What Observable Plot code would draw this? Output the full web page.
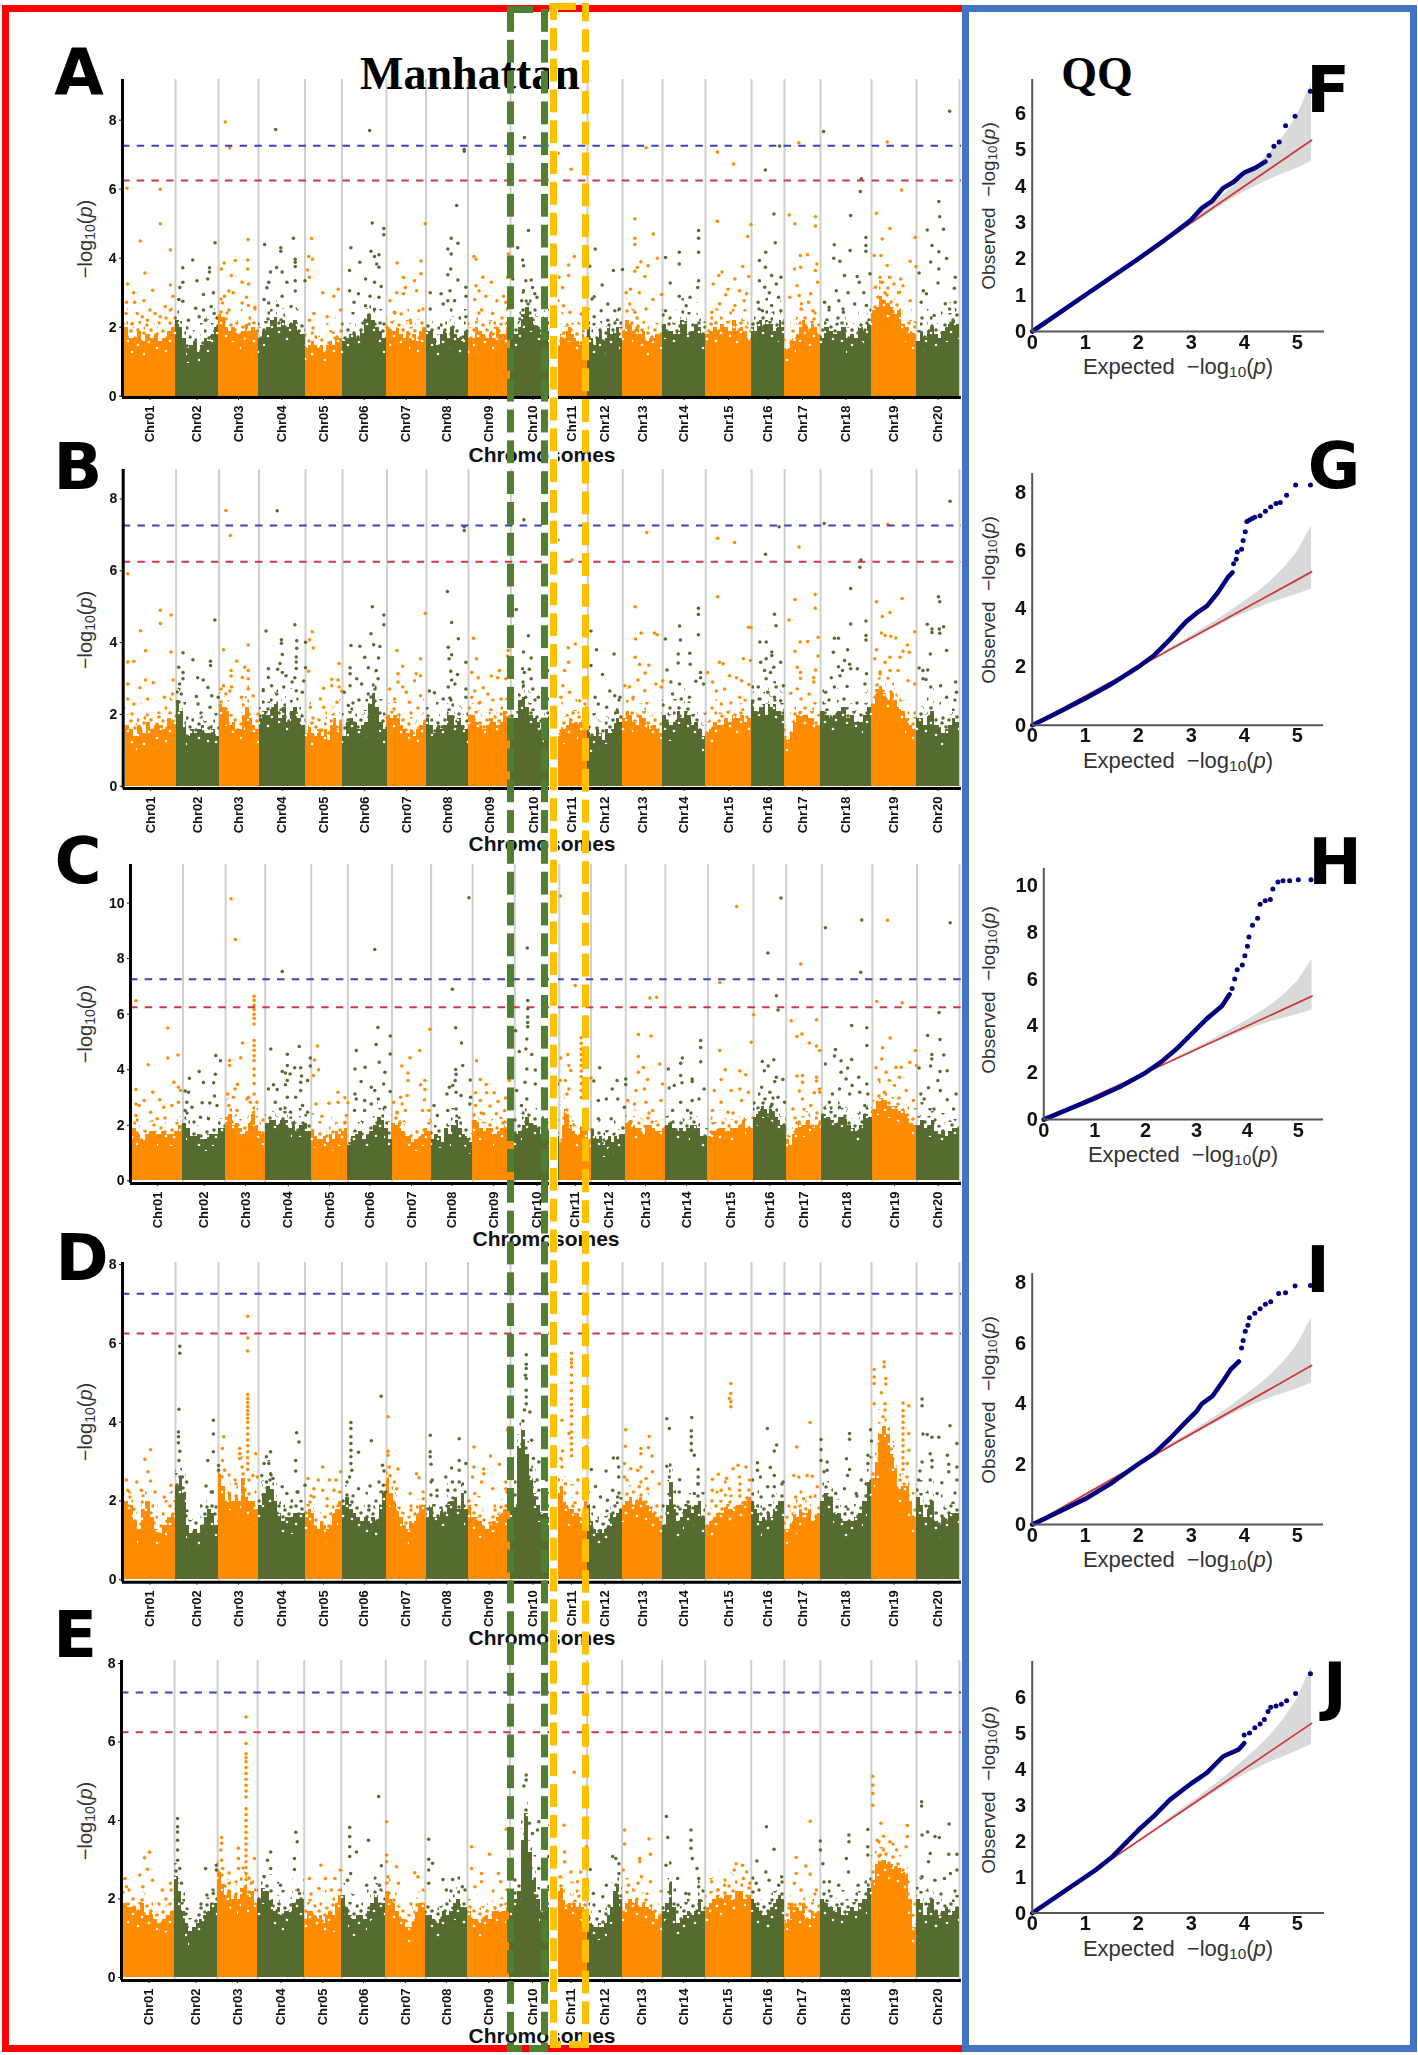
<!DOCTYPE html>
<html><head><meta charset="utf-8">
<script src="https://cdn.jsdelivr.net/npm/d3@7"></script>
<script src="https://cdn.jsdelivr.net/npm/@observablehq/plot@0.6"></script>
<style>
html,body{margin:0;padding:0;background:#fff}
#page{position:relative;width:1418px;height:2055px;overflow:hidden;font-family:"Liberation Sans",Arial,sans-serif;background:#fff}
.abs{position:absolute;white-space:nowrap;line-height:1}
.c{transform:translate(-50%,-50%)}
.v{transform:translate(-50%,-50%) rotate(-90deg)}
sub{font-size:70%;line-height:0;vertical-align:-0.22em}
.mh{filter:blur(.45px)}
.qq{filter:blur(.3px)}
svg g[aria-label$="tick label"] text, svg g[aria-label$="tick label"]{font-weight:bold}
.mh g[aria-label="y-axis tick label"]{font-size:14px}
.mh g[aria-label="x-axis tick label"]{font-size:13px}
.qq g[aria-label$="tick label"]{font-size:20px}
</style></head><body><div id="page"></div>
<script>
const chromNames=["Chr01","Chr02","Chr03","Chr04","Chr05","Chr06","Chr07","Chr08","Chr09","Chr10","Chr11","Chr12","Chr13","Chr14","Chr15","Chr16","Chr17","Chr18","Chr19","Chr20"];
const chromLengths=[51,43,40,46.5,37,44.5,39.5,42,42.5,45,32,35,40,43,46,33,36,51,45,43];
const blueThreshold=7.26, redThreshold=6.25;

// upper edge of the dense mass of markers, 12 readings along each chromosome
const tops_A=[[2.0,1.7,1.7,1.9,1.6,1.8,1.7,1.8,1.6,1.7,1.9,2.0],[2.2,2.0,1.7,1.4,1.5,1.6,1.3,1.5,1.7,1.6,1.8,2.0],[2.4,2.3,2.0,1.9,2.0,1.9,1.8,1.9,2.1,1.9,2.0,1.9],[1.7,1.9,2.0,2.2,2.3,2.0,2.2,2.0,2.1,2.2,1.9,1.8],[1.4,1.5,1.6,1.5,1.4,1.5,1.3,1.5,1.6,1.5,1.7,1.7],[1.6,1.7,1.8,1.8,1.7,1.9,2.2,2.4,2.2,2.0,1.9,1.7],[2.0,1.9,1.9,2.0,1.8,1.7,1.9,1.7,1.8,1.6,1.9,2.0],[1.9,1.9,1.7,1.5,1.8,1.9,1.7,2.0,1.8,1.7,1.6,1.9],[1.7,1.7,2.0,1.9,1.8,1.7,1.9,1.7,2.0,1.8,1.8,2.0],[1.7,1.8,2.0,2.4,2.6,2.3,2.1,2.0,1.8,2.2,1.9,1.3],[1.3,1.5,1.8,1.7,1.9,2.0,1.8,1.7,1.6,1.5,1.8,1.6],[2.0,1.7,1.5,1.7,1.9,1.6,1.7,2.0,1.8,1.9,2.0,1.7],[1.9,2.2,2.1,1.9,2.0,1.8,1.9,1.6,1.7,1.7,1.8,1.8],[2.1,1.9,1.9,1.8,1.9,2.2,2.1,1.8,1.9,2.1,2.0,1.8],[1.8,1.9,2.0,1.9,2.1,2.0,1.9,2.2,1.9,2.0,1.9,1.7],[2.0,1.9,2.1,2.2,2.0,2.2,2.1,2.1,1.9,2.0,2.2,2.0],[1.4,1.4,1.7,1.6,1.8,2.0,2.2,2.0,1.9,2.1,2.0,1.8],[1.7,2.0,1.9,1.8,1.9,2.0,1.7,1.8,1.7,2.0,1.9,2.1],[2.5,2.6,2.9,2.8,2.7,2.6,2.4,2.5,2.1,2.0,1.9,1.8],[1.6,1.9,1.7,1.9,2.0,1.8,1.7,1.9,2.0,2.1,2.2,2.1]];
const tops_B=[[1.7,1.6,1.4,1.7,1.5,1.8,1.6,1.7,1.7,1.6,1.9,1.8],[2.4,2.1,1.7,1.4,1.6,1.5,1.6,1.7,1.5,1.5,1.6,1.4],[2.3,2.2,2.1,1.7,1.8,1.6,1.6,2.0,2.2,1.9,1.7,1.6],[1.9,2.1,2.0,2.2,2.3,1.9,2.2,1.8,2.1,2.2,1.9,1.7],[1.5,1.7,1.5,1.4,1.6,1.4,1.6,1.3,1.7,1.9,1.6,1.8],[1.4,1.8,1.9,1.8,1.6,1.7,1.8,2.3,2.6,2.2,1.8,1.6],[2.0,1.9,2.0,2.0,1.7,1.6,1.5,1.6,1.4,1.6,1.7,1.8],[1.9,1.7,1.5,1.7,1.6,1.7,2.0,2.0,1.7,1.9,1.7,1.6],[2.0,2.0,1.8,1.7,1.6,1.7,1.9,1.8,1.7,1.8,2.1,2.0],[1.8,1.9,2.4,2.5,2.2,2.0,1.9,1.8,1.6,1.8,2.0,1.5],[1.2,1.5,1.7,1.6,1.7,1.9,1.8,1.8,1.7,1.8,1.9,1.8],[1.6,1.4,1.4,1.6,1.5,1.3,1.6,1.5,1.6,1.8,1.9,1.8],[1.9,2.1,2.0,1.8,1.7,2.0,1.9,1.7,1.6,1.7,1.6,1.5],[2.0,1.8,1.7,1.8,2.1,1.9,2.1,2.0,1.7,1.8,1.6,1.4],[1.5,1.6,1.8,1.7,1.7,1.9,1.8,2.0,1.9,2.0,1.8,1.9],[2.4,2.1,2.0,2.2,2.3,2.0,2.3,2.2,2.3,2.1,2.1,2.0],[1.4,1.2,1.5,1.8,2.0,2.1,2.0,2.0,1.9,1.9,1.7,1.7],[2.1,2.0,1.9,2.0,2.1,2.2,1.9,2.0,1.8,1.8,2.0,2.2],[2.3,2.7,2.8,2.6,2.4,2.6,2.4,2.2,2.1,1.9,1.7,1.6],[1.9,1.9,1.7,2.0,2.1,1.7,1.7,1.5,1.6,1.7,1.9,1.8]];
const tops_C=[[1.9,1.7,1.5,1.7,1.8,1.8,1.7,1.8,1.7,1.7,1.8,2.0],[2.1,1.9,1.6,1.6,1.7,1.5,1.5,1.7,1.7,1.7,1.9,1.9],[2.3,2.4,2.0,2.1,1.9,1.7,1.8,2.1,2.4,2.0,1.8,1.7],[2.1,2.2,2.2,2.0,2.2,2.2,1.9,2.1,1.8,2.0,2.1,1.8],[1.8,1.6,1.5,1.5,1.6,1.4,1.7,1.5,1.8,1.7,1.8,1.9],[1.3,1.6,1.7,1.8,1.5,1.7,1.8,2.0,2.3,2.2,1.9,1.5],[2.1,2.0,2.1,1.8,1.6,1.6,1.4,1.5,1.6,1.7,1.9,1.8],[1.5,1.7,1.6,1.4,1.9,1.7,2.0,2.2,1.9,1.7,1.6,1.4],[2.2,2.2,1.9,1.8,1.9,1.9,1.7,1.8,1.9,2.0,1.9,1.9],[1.7,1.8,2.0,2.3,2.1,2.0,1.9,1.7,1.6,1.8,2.0,1.6],[1.4,2.0,2.6,2.4,2.0,1.8,1.7,1.6,1.9,2.0,1.9,1.5],[1.8,1.6,1.5,1.6,1.3,1.5,1.6,1.4,1.6,1.5,1.7,1.7],[2.1,2.2,2.0,1.9,1.9,1.7,2.0,2.0,1.9,1.8,1.8,1.9],[2.0,2.1,1.9,1.8,1.9,1.8,1.9,2.0,2.0,1.9,1.6,1.6],[1.6,1.8,1.8,1.9,1.9,1.8,1.9,1.9,2.0,2.2,1.9,1.9],[2.3,2.4,2.6,2.7,2.6,2.3,2.6,2.5,2.3,2.2,2.0,2.0],[1.5,1.3,1.7,1.9,2.1,2.0,2.0,2.2,2.0,1.9,2.0,2.1],[2.4,2.3,2.2,2.1,2.3,2.3,2.0,1.9,1.8,2.0,2.4,2.3],[2.6,2.8,3.0,2.9,2.7,2.7,2.6,2.5,2.5,2.4,2.1,2.0],[2.0,2.2,1.9,2.0,2.2,1.8,1.7,1.8,1.6,1.8,1.9,1.9]];
const tops_D=[[2.0,1.9,1.5,1.3,1.8,2.0,1.6,1.3,1.2,1.4,1.6,1.7],[2.4,2.6,2.2,1.4,1.2,1.3,1.2,1.4,1.6,1.8,1.7,1.4],[2.7,2.4,2.0,2.2,2.0,2.1,2.0,2.6,2.1,2.0,2.0,1.8],[1.9,2.2,2.4,2.3,2.0,1.7,1.5,1.6,1.6,1.7,1.7,1.7],[1.6,1.8,1.7,1.4,1.3,1.5,1.4,1.3,1.4,1.7,1.8,2.0],[1.9,2.1,1.8,1.7,1.6,1.5,1.6,1.5,1.6,1.5,1.9,2.2],[2.6,2.2,2.0,1.8,1.6,1.4,1.3,1.5,1.5,1.7,1.9,1.9],[1.6,1.9,1.6,1.6,1.8,1.7,1.9,2.0,2.1,1.8,2.2,1.8],[1.9,1.6,1.6,1.5,1.4,1.3,1.4,1.5,1.6,1.7,1.8,1.8],[1.8,1.9,3.4,3.8,3.2,2.6,2.2,1.9,1.7,1.7,1.6,1.3],[1.3,2.2,2.4,2.0,1.9,1.8,1.8,1.7,1.7,1.6,1.8,2.0],[1.9,1.5,1.3,1.2,1.3,1.2,1.3,1.4,1.7,1.6,1.7,1.8],[1.9,2.0,2.1,1.9,2.0,2.1,2.0,1.9,1.8,1.7,1.6,1.5],[1.4,1.9,2.5,1.9,1.5,1.6,1.8,1.9,1.7,1.9,2.0,1.6],[1.4,1.5,1.6,1.7,1.7,1.9,1.8,1.8,1.9,1.9,2.0,2.1],[2.0,1.8,1.7,1.5,1.6,1.5,1.7,1.6,1.8,1.9,2.0,2.0],[1.3,1.3,1.5,1.7,1.6,1.8,1.6,1.7,1.8,1.5,1.6,1.7],[2.0,2.2,2.1,1.7,1.7,1.5,1.5,1.5,1.6,1.7,2.0,2.5],[2.6,3.0,3.7,3.9,3.7,3.2,2.8,2.3,2.4,2.4,2.0,1.6],[2.1,1.9,1.6,1.9,2.0,1.5,1.4,1.6,1.5,1.7,1.7,1.7]];
const tops_E=[[1.9,1.8,1.8,1.7,1.9,1.6,1.7,1.5,1.4,1.5,1.6,1.7],[2.6,2.2,1.7,1.4,1.2,1.3,1.4,1.5,1.6,1.7,1.9,1.9],[2.7,2.4,2.1,2.2,2.0,2.1,2.0,2.3,2.4,2.1,2.2,1.9],[2.0,2.3,2.2,2.0,1.7,1.8,1.6,1.7,1.7,1.9,2.0,2.0],[1.5,1.7,1.7,1.6,1.5,1.6,1.4,1.6,1.7,1.6,1.9,2.1],[2.1,1.8,1.6,1.5,1.6,1.6,1.5,1.7,1.9,2.1,1.9,1.9],[2.2,2.0,1.9,1.7,1.5,1.5,1.3,1.3,1.5,1.7,1.9,1.9],[1.6,1.6,1.5,1.4,1.5,1.7,1.6,1.7,1.9,2.0,1.8,1.8],[1.7,1.5,1.5,1.4,1.5,1.6,1.5,1.7,1.7,1.7,1.7,1.9],[1.7,2.0,2.2,3.5,4.2,3.2,2.5,2.0,1.7,1.9,1.9,1.5],[1.5,2.2,2.3,2.0,1.8,1.9,1.8,1.9,1.8,1.9,1.8,1.6],[1.6,1.4,1.3,1.3,1.4,1.3,1.4,1.6,1.8,2.2,2.4,2.0],[1.7,1.9,2.0,1.9,2.0,1.8,1.9,1.8,1.8,1.7,1.5,1.6],[1.7,1.9,2.4,1.8,1.4,1.5,1.6,1.7,1.6,1.7,2.0,1.7],[1.8,1.9,2.0,2.1,2.0,2.1,2.1,2.0,2.2,2.2,2.0,2.1],[2.0,1.9,1.8,1.7,1.6,1.6,1.7,1.8,1.9,2.0,2.1,2.0],[1.4,1.5,1.9,1.8,1.8,1.7,1.9,1.5,1.5,1.7,1.6,1.7],[2.0,1.9,1.8,1.7,1.8,1.6,1.7,1.8,1.7,1.9,2.0,2.3],[2.5,2.9,3.0,3.0,2.9,2.9,2.8,2.8,2.7,2.6,2.0,1.3],[2.0,1.9,1.6,1.9,2.0,1.7,1.6,1.7,1.8,1.6,1.7,1.8]];

// scattered markers read per chromosome: percent along the chromosome, -log10(p), ...
const dots_A=[
[5,6.03,70,6,70,5,31,4.5,90,4.24,40,3.57,6,3.25,90,3.22,55,3.07,18,3,95,2.9,20,2.72,4,2.72,38,2.77,3,2.4,25,2.4,35,2.3,45,2.2,60,2.4,80,2.6,70,2.3,15,2.1,50,2.5,90,2.5],
[92,4.45,40,3.95,17,3.72,79,3.72,79,3.6,50,3.35,75,3.4,17,3.3,10,3.15,65,2.95,88,3,8,2.8,17,2.75,47,2.55,65,2.5,83,2.6,30,2.2,55,2.3,90,2.4,70,2.2],
[17,7.95,28,7.2,74,4.54,14,3.86,42,3.93,73,3.95,7,3.69,73,3.69,32,3.5,59,3.3,75,3.25,26,3.05,15,2.9,37,3,70,2.87,59,2.7,75,2.63,91,2.58,10,2.7,26,2.5],
[37,7.73,13,4.4,75,4.58,48,4.3,48,4.2,79,3.97,79,3.88,79,3.76,39,3.73,51,3.6,26,3.6,100,3.35,22,3.3,61,3.3,79,3.35,18,3.14,79,3.05,12,2.8,51,2.9,22,2.7,41,2.63,70,2.6],
[18,4.57,10,4.05,20,3.97,7,3.66,12,3.45,48,3,90,3.1,78,2.9,24,2.4,96,2.5,60,2.3,12,2.2],
[62,7.7,68,5.02,94,4.86,94,4.68,20,4.3,65,4.2,83,4.1,73,4.05,40,3.88,78,3.83,83,3.74,17,3.64,53,3.4,73,3.3,88,3.18,17,3.06,37,2.97,63,2.9,83,2.87,27,2.72,53,2.62,73,2.52],
[98,5,27,3.86,87,3.92,43,3.44,87,3.55,71,3.35,48,3.15,26,3,43,2.97,76,3.06,9,2.77,82,2.48,37,2.38,20,2.43,60,2.2],
[91,7.16,91,7.1,73,5.53,60,4.58,76,4.43,52,4.27,60,4.12,59,3.69,52,3.52,76,3.37,95,3.16,10,3,36,2.97,57,3.06,95,2.9,52,2.77,68,2.77,41,2.67,10,2.53,95,2.3],
[14,4.05,19,3.97,95,4.12,95,3.97,35,3.45,93,3.45,55,3.3,19,3.2,26,3.06,42,2.9,84,2.9,16,2.8,68,2.77,89,2.72,32,2.5,58,2.4],
[31,7.5,40,4.8,16,4.3,27,3.95,29,3.78,34,3.35,46,3.37,5,3.4,49,3.15,29,3.06,54,2.97,25,2.77,39,2.67,59,2.87],
[8,7.04,49,6.58,59,4.05,41,3.8,93,4.03,41,3.5,11,3.45,22,3.15,25,2.62,45,2.43,80,2.38,8,2.77],
[22,4.27,6,3.77,42,3.22,74,3.64,100,3.67,19,2.88,13,2.82,58,2.67,39,2.48,91,2.53,78,2.48,19,2.3,58,2.2],
[59,7.2,31,5.14,31,4.58,31,4.4,77,4.7,87,4,46,3.9,64,3.78,37,3.73,31,3.62,56,3.47,20,3.1,9,3,42,3,76,2.8,98,2.95,18,2.67,31,2.43,59,2.53],
[7,4.02,39,4.17,39,3.83,84,4.8,84,4.58,84,4.17,18,3.28,64,2.87,39,2.9,84,3.35,7,2.48,55,2.62,82,3.15],
[26,7.08,61,6.73,26,5.07,99,4.98,92,4.63,81,3.76,29,3.5,36,3.6,94,3.47,17,3.25,64,3.4,49,3.1,74,3.06,89,2.97,44,2.94,31,2.68,64,2.63,84,2.77,14,2.43],
[85,7.25,42,6.56,68,5.28,72,4.45,43,4.17,24,3.93,42,3.74,61,3.5,89,3.45,24,3.35,40,3.16,75,3.25,54,3,20,2.72,82,2.87,61,2.63,89,2.48,33,2.48],
[40,7.35,13,5.25,86,5.2,29,5,86,4.93,44,4.08,64,4.1,45,3.74,90,3.83,28,3.69,86,3.64,92,3.3,35,3.2,73,2.97,15,2.87,41,2.92,47,2.68,67,2.72,79,2.48],
[6,7.67,80,6.3,78,5.93,59,5.24,27,4.39,89,4.6,89,4.37,58,4.22,89,4.2,26,4,38,3.91,47,3.5,72,3.47,76,3.3,97,3.55,31,3.06,54,3,85,3,8,2.72,36,2.77,67,2.67,17,2.58,90,2.63,45,2.43],
[35,7.37,67,5.98,11,5.3,41,4.86,24,4.56,97,4.6,6,4.08,21,4.08,86,3.91,99,3.76,35,3.79,19,3.45,40,3.45,65,3.4,24,3.3,50,3.25,9,3.16,70,3.2,30,3,60,3,86,2.77,15,2.87],
[77,8.26,52,5.64,54,5.2,25,4.82,63,4.84,36,4.37,52,4.19,70,3.99,33,3.89,52,3.69,6,3.57,90,3.45,50,3.28,88,3.13,16,3.06,23,2.97,11,2.72,67,2.68,77,2.53,90,2.72,41,2.34]];
const dots_B=[
[5,5.92,69,4.9,69,4.53,90,4.77,30,4.33,40,3.77,90,3.74,5,3.46,17,3.48,40,2.96,55,2.88,5,2.85,94,2.96,29,2.74,77,2.48,5,2.43,17,2.29,44,2.43,93,2.57],
[90,4.63,16,3.72,39,3.52,80,3.48,80,3.36,6,3.31,16,3.17,16,2.99,50,3.02,63,2.96,8,2.85,74,2.75,98,2.48,47,2.5,83,2.52,12,2.57,51,2.29,79,2.2],
[17,7.68,28,6.98,73,3.93,11,3.8,44,3.48,64,3.31,30,3.22,73,3.22,30,3.07,58,3.03,73,2.99,11,2.8,31,2.76,73,2.71,17,2.57,27,2.65,56,2.48,85,2.52],
[39,7.67,15,4.32,77,4.5,48,4.08,81,4.05,48,3.98,100,4.01,81,3.84,50,3.67,80,3.6,80,3.46,45,3.42,80,3.28,20,3.27,40,3.26,50,3.17,58,3.08,20,3.03,77,3.02,71,2.9,27,2.8,53,2.76,9,2.66,80,2.66,93,2.62,38,2.57,100,3.3,96,2.93],
[18,4.3,11,4.08,21,3.85,8,3.2,91,3.42,71,2.98,88,2.96,71,2.8,91,2.76,49,2.73,98,2.65,40,2.43,49,2.2,85,2.34,13,2.2],
[67,5,93,4.77,93,4.5,64,4.25,19,3.92,39,3.9,70,3.94,84,3.89,50,3.59,81,3.57,17,3.3,58,3.3,76,3.22,17,3.13,80,2.99,32,2.99,43,2.85,17,2.8,4,2.62,73,2.71,58,2.57,13,2.25,37,2.4],
[97,4.82,25,3.78,85,3.55,40,3.34,74,3.13,28,3.13,85,3.08,70,2.94,28,2.9,40,2.76,7,2.71,49,2.62,85,2.52,19,2.43,57,2.34],
[90,7.23,90,7.12,50,5.42,60,4.56,76,4.11,52,3.87,60,3.66,54,3.55,94,3.45,58,3.2,74,3.11,60,2.96,68,2.85,52,2.76,94,2.71,7,2.65,19,2.6,40,2.43,94,2.48,56,2.46],
[12,4.12,19,3.55,94,3.78,92,3.63,8,3.17,23,3.02,73,3.22,54,3.07,69,3.02,88,2.99,35,2.74,15,2.65,46,2.57,8,2.48,77,2.43,27,2.34],
[29,7.42,12,4.92,39,4.19,28,3.74,45,3.57,26,3.27,41,3.26,30,3.17,45,2.99,28,2.8,49,2.71,61,2.48,33,2.48,84,3.22],
[7,6.86,51,6.3,61,3.96,39,3.86,40,3.45,27,3.22,97,3.03,22,2.8,43,2.62,16,2.48,75,2.38,91,2.29],
[9,4.32,25,3.8,75,3.68,9,3.36,42,3.11,63,2.65,77,2.52,92,2.48,21,2.48,54,2.2,30,2.29,85,2.06],
[60,7.07,31,5,46,4.27,32,4.1,79,4.27,86,4.22,31,3.59,65,3.37,42,3.39,56,3.15,38,2.96,100,2.94,5,2.8,17,2.77,83,2.85,55,2.66,26,2.48,96,2.76],
[39,4.46,83,4.96,83,4.78,83,4.22,6,4.1,41,4.07,36,3.68,63,3.7,36,3.43,64,3.4,10,3.24,88,3.17,88,3.02,19,2.9,39,2.85,77,2.92,62,2.48,23,2.57,95,2.85,43,2.43],
[26,6.91,63,6.79,26,5.28,93,4.43,99,4.42,30,3.45,38,3.41,82,3.55,97,3.5,4,3.17,52,3.08,67,3.02,15,2.9,78,2.94,94,2.83,41,2.71,23,2.65,74,2.48,34,2.29],
[83,7.23,42,6.46,69,4.79,74,4.47,25,4.02,44,4.02,61,3.74,61,3.64,44,3.55,27,3.45,88,3.45,67,3.31,39,3.22,57,3.17,44,2.99,20,2.76,74,2.76,96,2.8,49,2.62,69,2.48,88,2.38],
[40,6.66,29,5.2,85,5.34,85,4.96,12,4.63,43,4.02,64,4.03,93,4.15,29,3.76,93,3.63,35,3.31,86,3.24,44,3.17,44,3.01,81,3.02,81,2.9,17,2.59,35,2.71,68,2.57],
[7,7.32,79,6.3,77,6.1,59,5.51,59,4.52,89,4.6,89,4.2,89,4.07,27,4.12,35,4.12,53,3.8,25,3.73,47,3.5,57,3.4,35,3.33,72,3.27,43,3.22,59,3.27,21,3.02,38,3.08,90,3.13,52,2.78,27,2.76,87,2.85,10,2.62],
[36,7.3,11,5.14,68,5.23,41,4.84,24,4.73,22,4.27,30,4.2,43,4.18,54,4.13,96,4.3,80,3.93,11,3.8,70,3.76,84,3.73,41,3.59,7,3.55,63,3.59,30,3.45,59,3.22,41,3.22,19,3.13,81,2.94,96,2.85],
[78,7.94,51,5.28,54,5.14,25,4.51,36,4.38,36,4.28,53,4.38,54,4.26,63,4.44,70,3.78,32,3.68,6,3.29,15,3.22,26,3.24,15,2.99,22,2.97,91,2.9,56,2.8,33,2.76,70,2.48,93,2.62]];
const dots_C=[
[7,6.48,70,5.5,70,4.42,90,4.53,31,4.18,82,3.55,7,3.29,91,3.37,95,3.25,40,3.19,54,2.92,23,2.89,7,2.77,13,2.71,78,2.71,36,2.47,62,2.65,91,2.83,7,2.35,49,2.23],
[77,4.51,88,4.32,38,3.94,76,3.84,15,3.69,48,3.54,72,3.53,5,3.23,13,3.19,74,3.05,9,2.83,45,2.81,63,2.8,80,2.71,21,2.65,5,2.53,41,2.29,60,2.23],
[14,10.16,25,8.69,72,6.65,72,6.5,72,6.32,72,6.17,72,6,72,5.85,72,5.65,72,5.05,72,4.87,72,4.7,72,4.5,72,4.33,72,4.03,72,3.8,72,3.5,72,3.13,43,4.96,38,4.43,10,4.33,10,4.15,30,3.47,24,3.31,5,3.13,20,3.01,58,3.01,79,2.83,8,2.71,62,2.83,29,2.53,71,2.47,54,2.95],
[37,7.54,12,4.75,48,4.56,74,4.84,48,4.15,98,4.42,98,4.13,64,4.07,77,4.07,37,3.94,44,3.88,54,3.85,79,3.77,48,3.61,92,3.61,77,3.55,18,3.46,44,3.46,7,3.31,26,3.29,77,3.25,48,3.01,66,3.01,22,2.83,81,2.71,33,2.59,55,2.47,92,2.47],
[17,4.85,9,4.35,20,4,6,3.79,73,3.19,13,2.77,48,2.79,92,2.99,73,2.83,100,2.81,96,2.35,29,2.32,92,2.11],
[61,8.33,68,5.52,96,5.21,64,4.91,96,4.57,19,4.69,71,4.27,16,4.03,39,4.09,84,3.91,30,3.58,81,3.49,53,3.37,96,3.22,16,3.13,61,3.25,19,2.95,69,2.95,38,2.89,15,2.53,53,2.77,38,2.53,84,2.65],
[71,4.69,46,4.43,25,4.13,97,5.46,41,3.88,41,3.61,84,3.61,73,3.46,84,3.29,83,2.92,22,3.01,39,3.07,4,2.83,26,2.77,95,2.53,13,2.47,34,2.53,78,2.53],
[91,10.19,51,6.9,59,5.51,73,4.96,76,4.15,59,4.01,60,3.84,58,3.61,94,3.63,52,3.43,44,3.37,38,3.13,60,3.19,72,3.07,95,3.01,93,2.77,7,2.71,40,2.53,60,2.59,15,2.35],
[9,4.32,18,3.65,32,3.47,87,3.61,7,3.17,33,3.17,51,3.17,78,2.98,18,2.89,60,2.86,41,2.69,7,2.71,76,2.53,26,2.41,56,2.41],
[28,8.38,29,6.49,29,6.2,29,5.9,29,5.7,29,5.55,2,5.4,27,5.11,25,4.75,10,4.66,38,4.55,46,3.99,27,4.03,23,3.55,46,3.49,96,3.49,4,3.25,27,2.95,62,3.31,15,2.71],
[3,10.26,50,7.03,69,5.15,69,4.95,69,4.75,69,4.55,69,4.35,69,4.15,69,3.95,69,3.75,69,3.5,69,3.25,69,3,27,4.55,4,4.42,30,4.15,36,3.97,2,3.61,100,3.7,19,3.61,30,3.31,24,3.13],
[25,4.07,8,3.59,75,3.61,100,3.67,100,3.47,61,3.31,44,2.95,21,2.89,77,2.95,96,2.65,21,2.23,58,2.23],
[61,6.58,78,6.61,32,5.27,64,5.21,32,4.48,86,4.21,45,4.08,32,3.91,55,3.65,93,3.49,26,3.25,47,3.31,5,2.89,89,2.89,51,2.83,22,2.77,68,2.53],
[83,5.05,83,4.8,83,4.29,40,4.42,36,4.23,7,4.03,36,3.79,39,3.53,63,3.67,63,3.58,21,3.43,9,3.34,91,3.31,36,2.83,63,2.89,79,2.95,52,2.53,17,2.53],
[63,9.88,26,7.14,100,5.98,95,4.99,26,4.69,38,4,70,3.95,83,3.82,29,3.65,51,3.25,70,3.31,14,3.25,29,2.83,89,3.19,74,2.89,44,2.47,10,2.53],
[84,10.18,44,8.2,70,6.66,75,6.15,62,4.36,27,4.3,45,4.13,33,3.96,70,3.73,90,3.65,65,3.58,25,3.37,50,3.19,75,3.01,35,2.95,95,2.83,55,2.71],
[41,7.81,14,5.76,85,5.8,30,5.2,44,5.29,65,4.96,85,4.85,94,4.69,30,3.77,46,3.79,46,3.55,85,3.73,85,3.59,37,3.23,94,3.19,79,3.17,46,2.95,93,3.31,19,2.59,69,2.71],
[7,9.11,79,9.39,77,7.51,59,5.59,89,5.51,89,4.87,27,4.73,25,4.49,7,4.21,38,4.32,59,4.37,51,4.06,38,3.91,73,3.73,48,3.67,89,3.49,60,3.43,35,3.31,21,3.13,55,3.13,75,3.19,91,3.13,15,2.83,35,2.65,85,2.71],
[34,9.38,10,6.46,67,6.41,40,5.14,23,4.79,97,4.69,21,4.39,84,4.27,65,4.09,53,4.09,99,4.15,8,4.07,31,3.91,38,3.61,61,3.73,15,3.64,50,3.43,27,3.19,76,3.25,92,2.89,11,2.83],
[78,9.29,52,6.06,25,5.23,54,5.09,35,4.55,35,4.39,63,4.53,32,4.13,5,4.06,54,3.94,71,3.96,49,3.61,27,3.35,55,3.25,9,3.13,92,3.13,71,2.92,17,2.95,40,2.59,86,2.59]];
const dots_D=[
[51,3.3,40,3.06,46,2.74,4,2.53,24,2.48,51,2.51,91,2.4,6,2.27,33,2.27,60,2.23,78,2.1,11,2.1],
[10,5.93,10,5.75,8,4.33,88,4.05,88,3.7,7,3.75,7,3.63,7,3.48,88,3.25,10,3.26,75,3.03,8,3.03,100,2.9,100,2.78,16,2.61,26,2.48,71,2.38,83,2.23,21,2.19],
[73,6.69,73,6.14,73,5.81,73,4.7,73,4.6,73,4.5,73,4.4,73,4.3,73,4.2,73,4.1,73,4,73,3.85,73,3.7,73,3.55,73,3.4,73,3.25,73,3.1,73,2.95,73,2.8,13,3.63,53,3.33,53,3.2,53,3.08,10,3.33,93,3.2,10,3.03,59,2.86,15,2.78,86,2.65,42,2.53,97,2.61],
[82,3.73,87,3.5,80,3.03,80,2.76,26,3.25,17,3.12,22,2.95,12,2.95,26,2.69,7,2.65,31,2.57,17,2.48,51,2.36,100,2.4,85,2.23,61,2.19],
[48,2.86,8,2.57,36,2.53,66,2.53,84,2.53,96,2.74,24,2.31,48,2.27,78,2.27,24,2.1,60,2.06],
[88,4.66,20,3.99,20,3.84,20,3.63,20,3.46,66,3.53,20,3.29,20,3.12,37,3.24,91,2.91,20,2.95,22,2.78,17,2.61,63,2.38,83,2.48,93,2.4,37,2.31,98,2.23],
[4,4.14,4,3.26,4,3.16,7,2.86,29,2.81,76,2.69,82,2.59,9,2.65,20,2.48,26,2.31,60,2.19,93,2.06],
[10,3.67,79,3.58,10,3.25,10,3.12,12,2.93,79,3.03,61,2.84,95,2.95,79,2.78,47,2.61,15,2.53,63,2.48,79,2.48,26,2.27,52,2.27],
[93,3.8,14,3.37,53,3.14,74,2.93,14,2.86,37,2.81,37,2.69,11,2.61,89,2.48,32,2.48,58,2.31,16,2.19,89,2.31],
[35,5.71,35,5.47,35,5.36,33,5.19,35,5.11,35,4.81,35,4.64,35,4.47,31,4.31,43,4.26,47,3.54,51,3.08,63,2.99,59,2.53,80,2.53,63,2.27],
[50,5.75,50,5.6,50,5.5,50,5.4,50,5.2,50,5,50,4.8,50,4.6,50,4.45,50,4.3,50,4.15,50,3.95,50,3.75,50,3.6,50,3.45,50,3.3,50,3.15,20,4.05,42,3.71,22,3.27,17,3.08,20,2.86,100,4.14,96,3.37,9,2.53,31,2.44,70,2.53],
[11,2.8,53,2.76,74,3.09,86,3.09,89,2.86,89,2.61,23,2.37,37,2.1,72,2.27,86,2.1,57,2.02],
[8,3.81,67,3.64,7,3.39,46,3.33,46,3.2,65,3.36,74,3.14,5,2.95,21,2.82,46,2.86,38,2.78,75,2.74,5,2.61,59,2.57,42,2.36,92,2.44,63,2.31],
[10,4.09,68,4.12,16,3.84,67,3.78,67,3.63,67,3.46,67,3.29,74,3.16,10,2.88,83,2.8,83,2.61,83,2.44,40,2.54,16,2.61,39,2.23,74,2.19],
[55,4.98,55,4.73,52,4.6,55,4.52,55,4.39,71,2.91,60,2.82,88,2.86,28,2.68,15,2.55,46,2.58,74,2.61,96,2.53,15,2.27,52,2.31,74,2.27,34,2.27],
[48,3.84,76,3.42,69,3.27,18,2.97,18,2.78,57,2.85,69,2.65,27,2.61,96,2.48,49,2.36,69,2.36,29,2.1],
[71,3.99,34,3.37,26,2.65,40,2.61,63,2.65,77,2.63,91,2.36,31,2.1,53,2.06,72,2.1],
[1,3.56,57,3.71,57,3.57,98,3.81,100,3.52,1,3.31,51,3.07,1,3.03,13,2.99,93,3.16,57,2.8,93,2.95,7,2.74,13,2.78,53,2.65,80,2.53,30,2.19,70,2.19,47,2.31],
[28,5.53,28,5.41,6,5.34,6,5.15,6,4.98,32,5.11,32,4.97,22,4.75,6,4.47,30,4.47,70,4.49,83,4.42,70,4.3,70,4.15,70,4,70,3.85,70,3.7,70,3.55,70,3.4,70,3.25,70,3.1,70,2.95,70,2.8,83,3.71,83,3.29,80,2.95,30,4.31,26,4.14],
[13,4.59,13,4.42,78,3.91,15,3.7,25,3.69,36,3.62,52,3.62,94,3.46,32,3.2,72,3.16,13,2.99,36,3.03,36,2.86,75,2.93,8,2.76,94,2.86,75,2.74,32,2.53,59,2.46,5,2.53,94,2.53,48,2.19]];
const dots_E=[
[51,3.19,41,3.05,47,2.76,3,2.52,32,2.61,57,2.48,92,2.4,6,2.31,38,2.31,76,2.23],
[7,4.05,7,3.84,7,3.71,7,3.5,7,3.25,7,2.99,12,2.78,72,2.78,97,2.86,97,2.74,16,2.4,75,2.1,90,2.14],
[71,6.64,71,5.96,71,5.7,71,5.6,71,5.5,71,5.35,71,5.2,71,5.05,71,4.9,71,4.75,71,4.6,71,4.3,71,4.15,71,4,71,3.85,71,3.7,71,3.55,71,3.4,71,3.25,71,3.1,71,2.95,71,2.8,71,2.65,71,2.5,10,3.57,10,3.42,8,3.25,10,2.99,52,3.29,52,3.03,52,2.78,92,3.03,13,2.78,29,2.4],
[82,3.7,85,3.46,79,3.03,79,2.75,28,3.2,21,2.99,28,2.78,14,2.57,49,2.35,90,2.14],
[45,2.86,97,2.74,14,2.52,57,2.52,83,2.52,40,2.27,74,2.23],
[84,4.61,19,3.82,19,3.59,61,3.5,19,3.33,34,3.2,19,3.08,90,2.85,21,2.65,14,2.48,86,2.35,57,2.35],
[2,3.97,2,3.12,2,2.95,27,2.82,73,2.67,81,2.57,5,2.57,32,2.4],
[8,3.52,8,3.01,17,2.91,8,2.74,8,2.4,42,2.5,65,2.5,88,2.31,50,2.23],
[91,3.78,10,3.33,52,3.14,10,2.78,73,2.65,33,2.65,33,2.44,97,2.99,78,2.44,18,2.31],
[36,5.16,36,5.03,31,4.88,64,3.97,61,3.76,89,3.88,43,3.93,50,3.67,79,3.29,86,3.08,64,2.78,86,2.31],
[60,5.23,28,3.88,30,3.2,30,2.95,98,3.33,94,3.67,16,2.57,50,2.69,80,2.69,70,2.44],
[9,2.75,73,3.08,82,3.03,91,2.9,91,2.65,55,2.35,45,2.06,18,2.14],
[6,3.76,67,3.53,6,3.4,44,3.03,44,2.95,71,3.14,3,2.74,48,2.57,71,2.44,16,2.35,40,2.4],
[10,4.1,67,3.76,13,3.57,67,3.5,67,3.29,70,3.03,9,2.86,81,2.78,36,2.52,85,2.52,85,2.31,55,2.14],
[67,2.9,81,2.86,14,2.44,63,2.74,90,2.69,42,2.35,83,2.52,97,2.4,28,2.23],
[46,3.84,69,3.27,17,2.97,44,2.69,92,2.57,54,2.48,15,2.4,83,2.35],
[72,3.98,33,3.06,60,2.84,33,2.65,72,2.63,28,2.4,89,2.23],
[0,3.48,56,3.63,56,3.46,0,3.25,93,3.77,93,3.33,51,3.03,5,2.9,93,3.12,18,2.44,55,2.69,74,2.35,36,2.35],
[3,5.13,3,4.9,3,4.69,3,4.39,21,3.93,80,3.87,27,3.6,80,3.59,13,3.5,41,3.46,56,3.25,77,3.33,27,3.25,20,3.12],
[12,4.48,12,4.37,76,3.91,26,3.71,13,3.63,43,3.59,53,3.57,32,3.16,75,3.14,94,3.14,28,2.95,94,2.74,79,2.65,13,2.57,43,2.48,65,2.52]];

// QQ plots
const ribbonX=[2.5,3,3.25,3.5,3.75,4,4.25,4.5,4.75,5,5.27];
const ribbonHigh=[2.55,3.07,3.35,3.63,3.93,4.25,4.58,4.95,5.4,5.95,6.85];
const ribbonLow=[2.45,2.93,3.17,3.4,3.63,3.84,4.03,4.2,4.35,4.5,4.68];
const qqExpectedEnd=5.27;
const qq_F=[[0,0],[1,1],[2,2],[2.5,2.52],[2.8,2.85],[3,3.08],[3.2,3.4],[3.4,3.6],[3.6,3.95],[3.8,4.12],[4,4.38],[4.2,4.5],[4.4,4.68]];
const qqTail_F=[[4.47,4.85],[4.56,5.1],[4.66,5.22],[4.78,5.67],[4.96,5.93],[5.25,6.62]];
const qq_G=[[0,0],[0.5,0.45],[1,0.92],[1.5,1.42],[2,2],[2.3,2.4],[2.6,2.95],[2.9,3.55],[3.1,3.85],[3.3,4.1],[3.5,4.55],[3.7,5.1],[3.78,5.25]];
const qqTail_G=[[3.8,5.55],[3.85,5.7],[3.87,5.95],[3.95,6.05],[3.98,6.35],[4.02,6.65],[4.05,7],[4.1,7.05],[4.15,7.1],[4.2,7.15],[4.3,7.2],[4.4,7.35],[4.5,7.5],[4.6,7.62],[4.68,7.65],[4.8,7.9],[4.97,8.25],[5.25,8.25]];
const qq_H=[[0,0],[0.5,0.45],[1,0.9],[1.5,1.4],[2,2],[2.3,2.45],[2.6,3],[2.9,3.65],[3.2,4.3],[3.5,4.85],[3.65,5.35]];
const qqTail_H=[[3.7,5.6],[3.75,6],[3.8,6.4],[3.9,6.6],[3.95,7],[4,7.4],[4.03,7.8],[4.1,8.3],[4.2,8.6],[4.25,9.2],[4.35,9.35],[4.45,9.4],[4.5,9.85],[4.6,10.15],[4.7,10.2],[4.83,10.2],[5,10.25],[5.25,10.25]];
const qq_I=[[0,0],[0.5,0.42],[1,0.85],[1.5,1.38],[2,2],[2.3,2.35],[2.6,2.85],[2.9,3.4],[3.1,3.75],[3.2,4],[3.4,4.25],[3.6,4.75],[3.75,5.15],[3.9,5.4]];
const qqTail_I=[[3.95,5.85],[3.98,6.1],[4.02,6.4],[4.07,6.6],[4.1,6.85],[4.2,7],[4.3,7.15],[4.4,7.3],[4.5,7.38],[4.65,7.65],[4.78,7.68],[4.96,7.9],[5.25,7.92]];
const qq_J=[[0,0],[1.2,1.2],[1.5,1.55],[1.8,2],[2,2.3],[2.3,2.7],[2.6,3.15],[3,3.6],[3.3,3.9],[3.6,4.35],[3.9,4.55],[4,4.72]];
const qqTail_J=[[4,4.95],[4.1,5],[4.2,5.15],[4.3,5.25],[4.38,5.38],[4.45,5.6],[4.5,5.72],[4.6,5.75],[4.7,5.8],[4.8,5.9],[4.97,6.1],[5.25,6.65]];

/* ---- layout and styling ---- */
const page=document.getElementById("page");
const ORANGE="#ff8c00", OLIVE="#556b2f", GRID="#cfcfcf", BLUE_T="#3f3fc4", RED_T="#cb3a4a";
const chromStart=[]; let acc=0; for(const l of chromLengths){chromStart.push(acc);acc+=l;}
const chromEnd=chromLengths.map((l,i)=>chromStart[i]+l);
const chromMid=chromLengths.map((l,i)=>chromStart[i]+l/2);
const nameAt=new Map(chromMid.map((m,i)=>[m,chromNames[i]]));

// speckle textures for the crowded band of markers (style only, no values)
const holeTile=[[3,4],[11,2],[20,6],[31,3],[38,9],[7,12],[16,15],[27,11],[35,18],[2,20],[12,24],[23,21],[31,27],[40,30],[6,31],[18,33]];
const denseTile=[[2,2],[8,5],[14,1],[21,4],[27,2],[33,6],[39,3],[5,10],[12,9],[18,12],[25,9],[31,13],[37,10],[1,16],[9,17],[15,20],[22,16],[28,19],[35,22],[41,17],[4,24],[11,27],[19,25],[26,28],[33,30],[39,26],[7,33],[16,34],[29,35]];
const thinTile=[[6,3],[19,7],[33,2],[11,14],[26,16],[39,12],[3,24],[17,28],[31,25],[40,33]];
function texture(id,color,tile,r,base){
  let s=`<pattern id="${id}" width="42" height="36" patternUnits="userSpaceOnUse">`;
  if(base)s+=`<rect width="42" height="36" fill="${base}"/>`;
  s+=tile.map(([x,y])=>`<circle cx="${x}" cy="${y}" r="${r}" fill="${color}"/>`).join("")+"</pattern>";
  return s;
}
const defs=document.createElement("div");
defs.innerHTML=`<svg width="0" height="0" style="position:absolute"><defs>`+
 texture("holeO","#fff",holeTile,1.3,ORANGE)+texture("holeG","#fff",holeTile,1.3,OLIVE)+
 texture("denseO",ORANGE,denseTile,1.8)+texture("denseG",OLIVE,denseTile,1.8)+
 texture("thinO",ORANGE,thinTile,1.7)+texture("thinG",OLIVE,thinTile,1.7)+`</defs></svg>`;
page.appendChild(defs);

function html(t,css,cls){const d=document.createElement("div");d.className="abs "+(cls||"");d.style.cssText=css;d.innerHTML=t;page.appendChild(d);return d;}
function place(svg,left,top,cls){svg.style.position="absolute";svg.style.left=left+"px";svg.style.top=top+"px";svg.setAttribute("class",(svg.getAttribute("class")||"")+" "+cls);page.appendChild(svg);}

function manhattan(tops,dots,L){
  const bars=[],pts=[];
  tops.forEach((arr,i)=>{const w=chromLengths[i]/arr.length;arr.forEach((v,j)=>bars.push({x1:chromStart[i]+j*w,x2:chromStart[i]+(j+1)*w+.05,y:v,odd:i%2==1}));});
  dots.forEach((arr,i)=>{for(let k=0;k<arr.length;k+=2)pts.push({x:chromStart[i]+chromLengths[i]*arr[k]/100,y:arr[k+1],c:i%2?OLIVE:ORANGE});});
  const zone=(odd,lo,hi,fill)=>Plot.rectY(bars.filter(d=>d.odd==odd),{x1:"x1",x2:"x2",y1:d=>Math.max(0,d.y+lo),y2:d=>d.y+hi,fill,shapeRendering:"crispEdges"});
  const pad=10, W=962, top=L.top-pad, bottom=L.base+70;
  const svg=Plot.plot({width:W,height:bottom-top,marginLeft:L.axis,marginRight:W-961,marginTop:pad,marginBottom:bottom-L.base,
    style:{background:"transparent",fontFamily:'"Liberation Sans",Arial,sans-serif',color:"#111",overflow:"visible"},
    x:{domain:[-2,837]},y:{domain:[(L.y0-L.base)/L.unit,(L.y0-L.top)/L.unit]},
    marks:[
      Plot.ruleX(chromEnd,{stroke:GRID,strokeWidth:2}),
      ...[[false,"O",ORANGE],[true,"G",OLIVE]].flatMap(([odd,k,col])=>[
        zone(odd,-99,-.45,col),
        zone(odd,-.45,-.02,`url(#hole${k})`),
        zone(odd,-.02,.3,`url(#dense${k})`),
        zone(odd,.3,.62,`url(#thin${k})`)
      ]),
      Plot.dot(pts,{x:"x",y:"y",fill:"c",r:1.75}),
      Plot.ruleY([blueThreshold],{stroke:BLUE_T,strokeWidth:2,strokeDasharray:"7.5 7.2"}),
      Plot.ruleY([redThreshold],{stroke:RED_T,strokeWidth:2,strokeDasharray:"7.5 7.2"}),
      Plot.axisY({ticks:L.ticks,tickSize:3,tickPadding:3,label:null}),
      Plot.axisX({ticks:chromMid,tickFormat:d=>nameAt.get(d),tickRotate:-90,tickSize:3,tickPadding:5,label:null}),
      Plot.ruleX([-2],{stroke:"#000",strokeWidth:3}),
      Plot.ruleY([(L.y0-L.base)/L.unit],{stroke:"#000",strokeWidth:3})
    ]});
  place(svg,0,top,"mh");
}
const L_A={axis:122,top:79,y0:395.7,base:397,unit:34.5,ticks:[0,2,4,6,8]};
const L_B={axis:122.7,top:469,y0:785.7,base:788,unit:35.9,ticks:[0,2,4,6,8]};
const L_C={axis:130,top:864,y0:1180.3,base:1183,unit:27.77,ticks:[0,2,4,6,8,10]};
const L_D={axis:122,top:1262,y0:1579.3,base:1581.7,unit:39.4,ticks:[0,2,4,6,8]};
const L_E={axis:121,top:1660,y0:1977,base:1980,unit:39.25,ticks:[0,2,4,6,8]};
manhattan(tops_A,dots_A,L_A);manhattan(tops_B,dots_B,L_B);manhattan(tops_C,dots_C,L_C);manhattan(tops_D,dots_D,L_D);manhattan(tops_E,dots_E,L_E);

function qq(curve,tail,L){
  const left=990,pad=8,top=L.top-pad,bottom=L.y0+40,W=345;
  const ribbon=ribbonX.map((x,i)=>({x,h:ribbonHigh[i],l:ribbonLow[i]}));
  const svg=Plot.plot({width:W,height:bottom-top,marginLeft:L.axis-left,marginRight:left+W-L.end,marginTop:pad,marginBottom:40,
    style:{background:"transparent",fontFamily:'"Liberation Sans",Arial,sans-serif',color:"#111",overflow:"visible"},
    x:{domain:[0,(L.end-L.axis)/L.ux]},y:{domain:[0,(L.y0-L.top)/L.uy]},
    marks:[
      Plot.areaY(ribbon,{x:"x",y1:"l",y2:"h",fill:"#d9d9d9"}),
      Plot.line([[0,0],[qqExpectedEnd,qqExpectedEnd]],{stroke:"#d0393c",strokeWidth:1.8}),
      Plot.line(curve,{stroke:"#000080",strokeWidth:4.6,strokeLinecap:"round",strokeLinejoin:"round"}),
      Plot.dot(tail,{x:d=>d[0],y:d=>d[1],fill:"#000080",r:2.5}),
      Plot.ruleX([0],{stroke:"#555",strokeWidth:2}),
      Plot.ruleY([0],{stroke:"#555",strokeWidth:2}),
      Plot.axisY({ticks:L.ticks,tickFormat:d=>String(d),tickSize:0,tickPadding:6,label:null}),
      Plot.axisX({ticks:[0,1,2,3,4,5],tickFormat:d=>String(d),tickSize:0,tickPadding:3,label:null})
    ]});
  place(svg,left,top,"qq");
}
const Q_F={axis:1031.7,end:1324,ux:53,top:79,y0:331,uy:36.3,ticks:[0,1,2,3,4,5,6],lab:[206,367,1178]};
const Q_G={axis:1031.7,end:1323,ux:53,top:473,y0:724.7,uy:29.1,ticks:[0,2,4,6,8],lab:[600,761,1178]};
const Q_H={axis:1043.3,end:1323,ux:50.9,top:867.6,y0:1118.6,uy:23.4,ticks:[0,2,4,6,8,10],lab:[990,1155,1183]};
const Q_I={axis:1031.7,end:1323,ux:53,top:1272.5,y0:1523.6,uy:30.2,ticks:[0,2,4,6,8],lab:[1400,1560,1178]};
const Q_J={axis:1031.7,end:1324,ux:53,top:1660.7,y0:1912.3,uy:36,ticks:[0,1,2,3,4,5,6],lab:[1790,1949,1178]};
[[qq_F,qqTail_F,Q_F],[qq_G,qqTail_G,Q_G],[qq_H,qqTail_H,Q_H],[qq_I,qqTail_I,Q_I],[qq_J,qqTail_J,Q_J]].forEach(([c,t,L])=>{
  qq(c,t,L);
  const p='&minus;log<sub>10</sub>(<i>p</i>)';
  html('Observed&nbsp;&nbsp;'+p,`left:988px;top:${L.lab[0]}px;font-size:19px;color:#333`,"v");
  html('Expected&nbsp;&nbsp;'+p,`left:${L.lab[2]}px;top:${L.lab[1]}px;font-size:22px;color:#333`,"c");
});

// labels of the Manhattan panels
[[239,454,542],[630,843,542],[1024,1238,546],[1422,1637,542],[1821,2035,542]].forEach(([yl,xl,cx])=>{
  html('&minus;log<sub>10</sub>(<i>p</i>)',`left:85px;top:${yl}px;font-size:20px;color:#333`,"v");
  html('Chromosomes',`left:${cx}px;top:${xl}px;font-size:21px;font-weight:bold;color:#111`,"c");
});
// panel letters
[["A",79,73],["B",78,467],["C",78,861],["D",82,1258],["E",75,1635],["F",1328,90],["G",1334,466],["H",1335,862],["I",1318,1270],["J",1335,1686]].forEach(([t,x,y])=>
  html(t,`left:${x}px;top:${y}px;font-family:"DejaVu Sans";font-weight:bold;font-size:64px;color:#000`,"c"));
html("Manhattan",'left:470px;top:74px;font-family:"Liberation Serif";font-weight:bold;font-size:46px;color:#000',"c");
html("QQ",'left:1097px;top:74px;font-family:"Liberation Serif";font-weight:bold;font-size:46px;color:#000',"c");

// frames
html("",'left:2px;top:5px;width:953px;height:2033px;border:7px solid #ff0000;z-index:5');
html("",'left:962px;top:5px;width:441px;height:2033px;border:7px solid #4472c4;z-index:6');
// dashed highlight columns
function column(x,color,offset,y1,y2){
  html("",`left:${x-3.5}px;top:${y1}px;width:7px;height:${y2-y1}px;z-index:7;background-image:linear-gradient(${color} 0,${color} 22.8px,transparent 22.8px);background-size:100% 30.82px;background-position:0 ${offset}px;background-repeat:repeat-y`);
}
html("",'left:549px;top:10px;width:9px;height:2031px;background:#fff;z-index:6');
column(510.7,"#4f7f30",3,6,2052);column(544.3,"#4f7f30",3,6,2052);
column(553,"#ffc000",-6,3,2048);column(585.5,"#ffc000",-4.5,3,2048);
[[507,533,6,13,"#4f7f30"],[549,576,3,10,"#ffc000"],[507,522,2045,2052,"#4f7f30"],[529,547,2045,2052,"#4f7f30"],[550,561,2041,2048,"#ffc000"],[569,588,2041,2048,"#ffc000"]].forEach(([a,b,c,d,col])=>
  html("",`left:${a}px;top:${c}px;width:${b-a}px;height:${d-c}px;background:${col};z-index:8`));
</script></body></html>
